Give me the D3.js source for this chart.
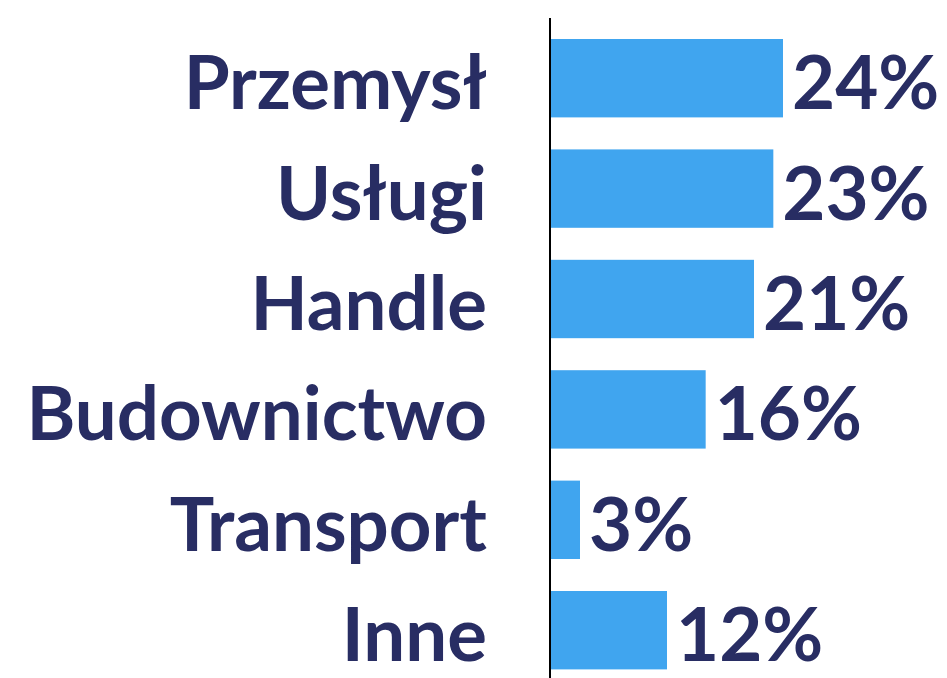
<!DOCTYPE html>
<html><head><meta charset="utf-8">
<script src="https://cdn.jsdelivr.net/npm/d3@7"></script>
<style>html,body{margin:0;padding:0;background:#fff;}svg{display:block;}</style>
</head><body>
<script>
const categories = ["Przemysł","Usługi","Handle","Budownictwo","Transport","Inne"];
const values = [24, 23, 21, 16, 3, 12];
const valueLabels = ["24%","23%","21%","16%","3%","12%"];

const W = 947, H = 678;
const svg = d3.select("body").append("svg").attr("width", W).attr("height", H);

const x = d3.scaleLinear().domain([0, 24]).range([551, 783]);
const y = d3.scaleBand().domain(categories).range([23, 685.4]).paddingInner(0.29).paddingOuter(0.145);

const navy = "#282d63";
const blue = "#40a5ef";

svg.selectAll("rect.bar").data(categories).join("rect")
  .attr("class","bar")
  .attr("x", x(0))
  .attr("y", d => y(d))
  .attr("width", (d,i) => x(values[i]) - x(0))
  .attr("height", y.bandwidth())
  .attr("fill", blue);

svg.append("line")
  .attr("x1", 550).attr("x2", 550)
  .attr("y1", 18).attr("y2", H + 10)
  .attr("stroke", "#000").attr("stroke-width", 2);

const fontFam = "Lato, 'Open Sans', sans-serif";

svg.selectAll("text.cat").data(categories).join("text")
  .attr("class","cat")
  .attr("x", 487)
  .attr("y", d => y(d) + y.bandwidth()/2 + 31)
  .attr("text-anchor","end")
  .attr("font-family", fontFam)
  .attr("font-weight", 700)
  .attr("font-size", 74.4)
  .attr("fill", navy)
  .text(d => d);

svg.selectAll("text.val").data(categories).join("text")
  .attr("class","val")
  .attr("x", (d,i) => x(values[i]) + 9)
  .attr("y", d => y(d) + y.bandwidth()/2 + 31)
  .attr("text-anchor","start")
  .attr("font-family", fontFam)
  .attr("font-weight", 700)
  .attr("font-size", 74.4)
  .attr("fill", navy)
  .text((d,i) => valueLabels[i]);
</script>
</body></html>
